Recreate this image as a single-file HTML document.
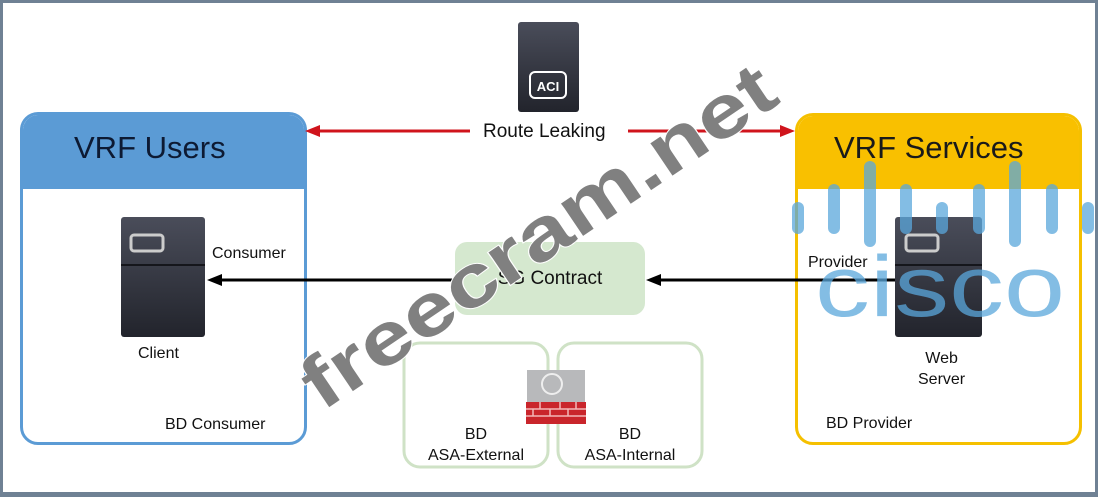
<!DOCTYPE html>
<html><head><meta charset="utf-8"><style>
html,body{margin:0;padding:0}
body{width:1098px;height:497px;position:relative;overflow:hidden;background:#fff;font-family:"Liberation Sans",sans-serif}
.a{position:absolute}
.t{position:absolute;white-space:nowrap;color:#111}
</style></head><body>
<div class="a" style="left:0;top:0;width:1092px;height:489px;border:3px solid #6f8194;border-bottom-width:5px"></div>

<div class="a" style="left:20px;top:112px;width:281px;height:327px;border:3px solid #5b9bd5;border-radius:18px;overflow:hidden">
 <div class="a" style="left:0;top:0;width:281px;height:74px;background:#5b9bd5"></div>
</div>
<div class="t" style="left:74px;top:130px;font-size:31px;color:#0d1a33">VRF Users</div>
<div class="a" style="left:795px;top:113px;width:281px;height:326px;border:3px solid #f5c000;border-radius:18px;overflow:hidden">
 <div class="a" style="left:0;top:0;width:281px;height:73px;background:#f9c000"></div>
</div>
<div class="t" style="left:834px;top:130px;font-size:31px;color:#1a1a1a">VRF Services</div>

<div class="t" style="left:483px;top:121px;font-size:19px">Route Leaking</div>
<div class="t" style="left:212px;top:245px;font-size:16px">Consumer</div>
<div class="t" style="left:138px;top:345px;font-size:16px">Client</div>
<div class="t" style="left:165px;top:416px;font-size:16px">BD Consumer</div>
<div class="t" style="left:808px;top:254px;font-size:16px">Provider</div>
<div class="t" style="left:918px;top:348px;font-size:16px;text-align:center;line-height:21px">Web<br>Server</div>
<div class="t" style="left:826px;top:415px;font-size:16px">BD Provider</div>

<svg class="a" style="left:0;top:0" width="1098" height="497">
 <defs>
  <linearGradient id="sv" x1="0" y1="0" x2="0" y2="1"><stop offset="0" stop-color="#4a4d5a"/><stop offset="1" stop-color="#22242c"/></linearGradient>
 </defs>
 <line x1="318" y1="131" x2="470" y2="131" stroke="#d0141c" stroke-width="3"/>
 <polygon points="305,131 320,125 320,137" fill="#d0141c"/>
 <line x1="628" y1="131" x2="782" y2="131" stroke="#d0141c" stroke-width="3"/>
 <polygon points="795,131 780,125 780,137" fill="#d0141c"/>
 <line x1="220" y1="280" x2="455" y2="280" stroke="#000" stroke-width="3"/>
 <polygon points="207,280 222,274 222,286" fill="#000"/>
 <line x1="660" y1="280" x2="895" y2="280" stroke="#000" stroke-width="3"/>
 <polygon points="646,280 661,274 661,286" fill="#000"/>
 <rect x="455" y="242" width="190" height="73" rx="12" fill="#d5e8cf"/>
 <text x="550" y="284" font-family="Liberation Sans" font-size="19" fill="#111" text-anchor="middle">SG Contract</text>
 <rect x="404" y="343" width="144" height="124" rx="16" fill="#fff" stroke="#cfe2c6" stroke-width="3"/>
 <rect x="558" y="343" width="144" height="124" rx="16" fill="#fff" stroke="#cfe2c6" stroke-width="3"/>
 <text font-family="Liberation Sans" font-size="16" fill="#111" text-anchor="middle"><tspan x="476" y="439">BD</tspan><tspan x="476" y="460">ASA-External</tspan><tspan x="630" y="439">BD</tspan><tspan x="630" y="460">ASA-Internal</tspan></text>
 <rect x="527" y="370" width="58" height="33" fill="#b8b9bb"/>
 <circle cx="552" cy="384" r="10" fill="none" stroke="#eee" stroke-width="2"/>
 <rect x="526" y="402" width="60" height="22" fill="#c9252b"/>
 <g stroke="#f3b7b7" stroke-width="1.5"><line x1="526" y1="409" x2="586" y2="409"/><line x1="526" y1="416" x2="586" y2="416"/><line x1="540" y1="402" x2="540" y2="409"/><line x1="560" y1="402" x2="560" y2="409"/><line x1="576" y1="402" x2="576" y2="409"/><line x1="533" y1="409" x2="533" y2="416"/><line x1="550" y1="409" x2="550" y2="416"/><line x1="568" y1="409" x2="568" y2="416"/></g>
 <rect x="518" y="22" width="61" height="90" rx="3" fill="url(#sv)"/>
 <rect x="530" y="72" width="36" height="26" rx="5" fill="none" stroke="#fff" stroke-width="2"/>
 <text x="548" y="91" font-family="Liberation Sans" font-weight="bold" font-size="13" fill="#fff" text-anchor="middle">ACI</text>
 <rect x="121" y="217" width="84" height="120" rx="3" fill="url(#sv)"/>
 <line x1="121" y1="265" x2="205" y2="265" stroke="#15161b" stroke-width="2"/>
 <rect x="131" y="235" width="32" height="16" rx="3" fill="none" stroke="#ccc" stroke-width="3"/>
 <rect x="895" y="217" width="87" height="120" rx="3" fill="url(#sv)"/>
 <line x1="895" y1="265" x2="982" y2="265" stroke="#15161b" stroke-width="2"/>
 <rect x="906" y="235" width="32" height="16" rx="3" fill="none" stroke="#ccc" stroke-width="3"/>
 <g stroke="#5aa7dc" stroke-width="12" stroke-linecap="round" opacity="0.75">
  <line x1="798" y1="208" x2="798" y2="228"/>
  <line x1="834" y1="190" x2="834" y2="228"/>
  <line x1="870" y1="167" x2="870" y2="241"/>
  <line x1="906" y1="190" x2="906" y2="228"/>
  <line x1="942" y1="208" x2="942" y2="228"/>
  <line x1="979" y1="190" x2="979" y2="228"/>
  <line x1="1015" y1="167" x2="1015" y2="241"/>
  <line x1="1052" y1="190" x2="1052" y2="228"/>
  <line x1="1088" y1="208" x2="1088" y2="228"/>
 </g>
 <text x="815" y="316" font-family="Liberation Sans" font-size="86" fill="#5aa7dc" opacity="0.75" textLength="250" lengthAdjust="spacingAndGlyphs">cisco</text>
 <text transform="translate(322,412) rotate(-34)" font-family="Liberation Sans" font-weight="bold" font-size="74" fill="#808080" stroke="#fff" stroke-width="2" paint-order="stroke" textLength="555" lengthAdjust="spacingAndGlyphs">freecram.net</text>
</svg>
</body></html>
